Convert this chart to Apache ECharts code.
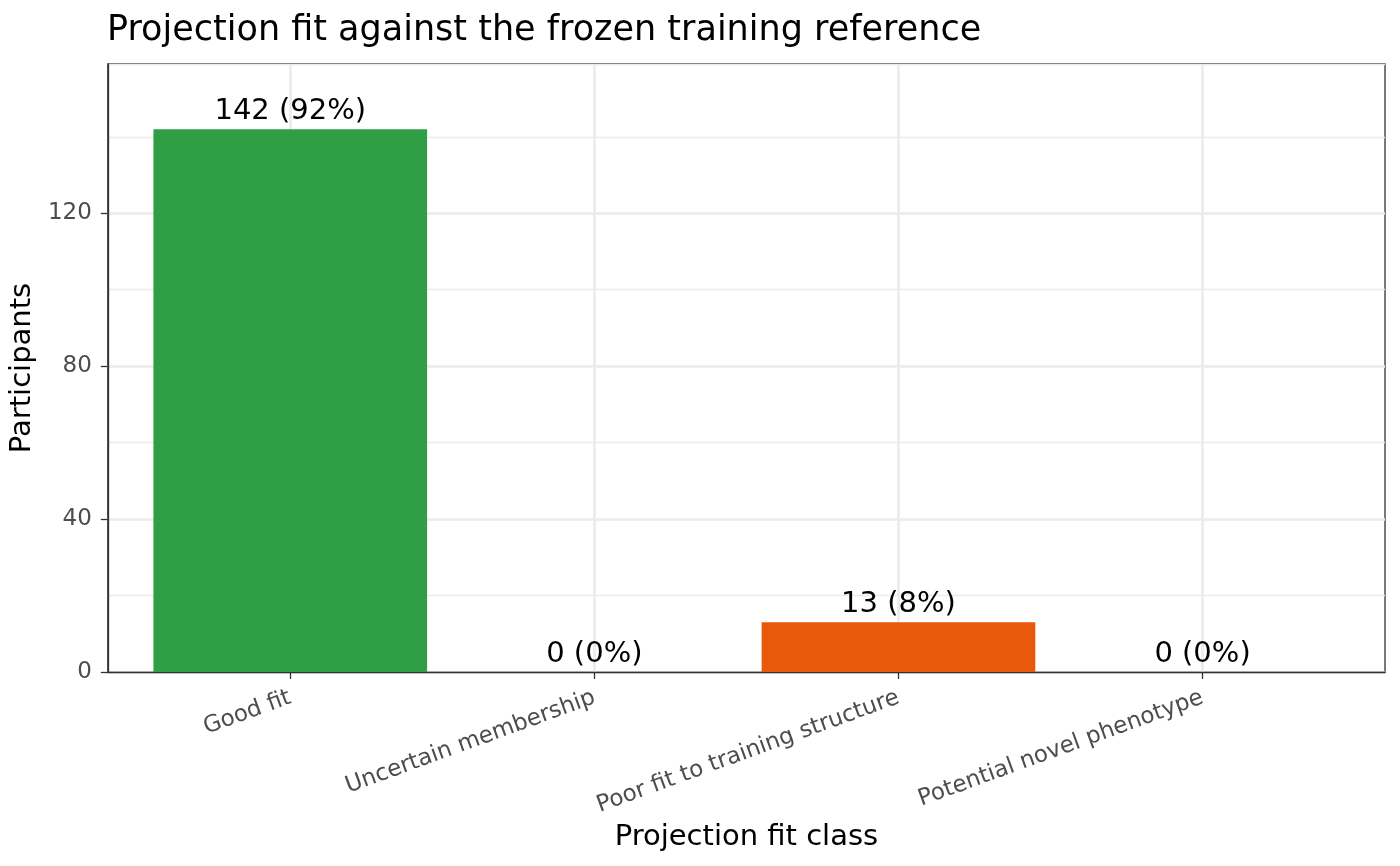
<!DOCTYPE html>
<html>
<head>
<meta charset="utf-8">
<script src="https://cdn.jsdelivr.net/npm/echarts@6/dist/echarts.min.js"></script>
<style>
html,body{margin:0;padding:0;background:#fff;}
#chart{width:1400px;height:866px;}
</style>
</head>
<body>
<div id="chart"></div>
<script>
const categories = ['Good fit', 'Uncertain membership', 'Poor fit to training structure', 'Potential novel phenotype'];
const counts = [142, 0, 13, 0];
const percents = ['92%', '0%', '8%', '0%'];
const barColors = ['#2F9E44', '#F08C00', '#E8590C', '#C2255C'];
const yTicks = [0, 40, 80, 120];
const positions = [1, 2, 3, 4];

const FONT = 'DejaVu Sans';
const yMax = 142 * 1.12;

const chart = echarts.init(document.getElementById('chart'));
chart.setOption({
  animation: false,
  backgroundColor: '#fff',
  title: {
    text: 'Projection fit against the frozen training reference',
    left: 102,
    top: 8,
    textStyle: {fontFamily: FONT, fontSize: 35, fontWeight: 'normal', color: '#000'}
  },
  grid: {
    left: 107, right: 15, top: 64, bottom: 194,
    show: true, borderColor: '#333333', borderWidth: 1.3, backgroundColor: 'transparent'
  },
  xAxis: {
    type: 'value',
    min: 0.4, max: 4.6, interval: 1,
    name: 'Projection fit class',
    nameLocation: 'middle',
    nameGap: 150,
    nameTextStyle: {fontFamily: FONT, fontSize: 29, color: '#000'},
    axisLine: {show: true, lineStyle: {color: '#333333', width: 1.3}},
    axisTick: {show: true, length: 7, customValues: positions, lineStyle: {color: '#333333', width: 1.3}},
    axisLabel: {
      customValues: positions,
      rotate: 20, margin: 25,
      fontFamily: FONT, fontSize: 23, color: '#4D4D4D',
      formatter: v => categories[Math.round(v) - 1] || ''
    },
    splitLine: {show: true, lineStyle: {color: '#EBEBEB', width: 2.6}}
  },
  yAxis: [{
    type: 'value',
    min: 0, max: yMax, interval: 40,
    name: 'Participants',
    nameLocation: 'middle',
    nameGap: 61,
    nameTextStyle: {fontFamily: FONT, fontSize: 29, color: '#000'},
    axisLine: {show: true, lineStyle: {color: '#333333', width: 1.3}},
    axisTick: {show: true, length: 7, customValues: yTicks, lineStyle: {color: '#333333', width: 1.3}},
    axisLabel: {
      customValues: yTicks,
      margin: 16,
      fontFamily: FONT, fontSize: 23, color: '#4D4D4D'
    },
    splitLine: {show: true, lineStyle: {color: '#EBEBEB', width: 2.6}}
  }, {
    type: 'value',
    min: 0, max: yMax, interval: 20,
    position: 'left',
    axisLine: {show: false}, axisTick: {show: false}, axisLabel: {show: false},
    splitLine: {show: true, lineStyle: {color: '#EBEBEB', width: 1.3}}
  }],
  series: [{
    type: 'bar',
    yAxisIndex: 0,
    barWidth: '90%',
    data: counts.map((c, i) => ({value: [positions[i], c], itemStyle: {color: barColors[i]}})),
    label: {
      show: true, position: 'top', distance: 3,
      fontFamily: FONT, fontSize: 29, color: '#000',
      formatter: p => counts[p.dataIndex] + ' (' + percents[p.dataIndex] + ')'
    }
  }]
});
</script>
</body>
</html>
